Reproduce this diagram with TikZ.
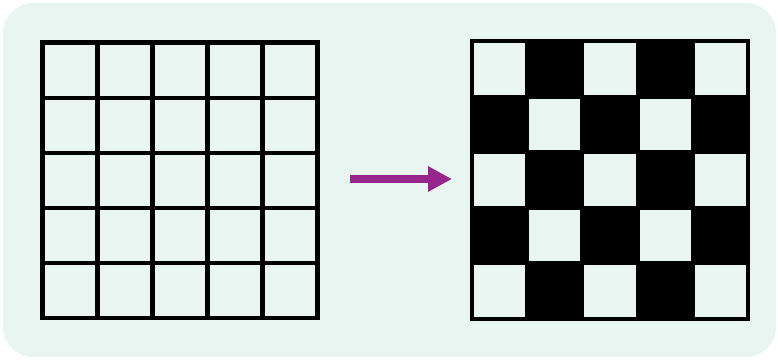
\documentclass[tikz,border=0pt]{standalone}
\usetikzlibrary{arrows.meta}
\definecolor{mint}{RGB}{232,245,241}
\definecolor{arrowpurple}{RGB}{150,38,140}
\begin{document}
\begin{tikzpicture}[x=0.03cm,y=-0.03cm,
  gridline/.style={line width=4.2*0.03cm, black, line cap=rect},
  whitecell/.style={fill=mint},
  bigarrow/.style={arrowpurple, line width=0.24cm, -{Triangle[length=0.72cm,width=0.72cm]}}]
\useasboundingbox (0,0) rectangle (778,359);
\fill[mint, rounded corners=0.9cm] (3,3) rectangle (776,357);
% left grid
\foreach \i in {0,...,5} {
  \draw[gridline] (42.5+55*\i,42.5) -- (42.5+55*\i,318);
  \draw[gridline] (42.5,42.5+55.1*\i) -- (317.5,42.5+55.1*\i);
}
% right checkerboard
\fill[black] (470,39) rectangle (750,321);
\foreach \r in {0,...,4} {
  \foreach \c in {0,...,4} {
    \pgfmathtruncatemacro{\parity}{mod(\r+\c,2)}
    \ifnum\parity=0
      \fill[whitecell] (472+55.2*\c+2,41+55.6*\r+2) rectangle (472+55.2*\c+55.2-2,41+55.6*\r+55.6-2);
    \fi
  }
}
% arrow
\coordinate (A) at (350,179);
\coordinate (B) at (452,179);
\draw[bigarrow] (A) -- (B);
\end{tikzpicture}
\end{document}
